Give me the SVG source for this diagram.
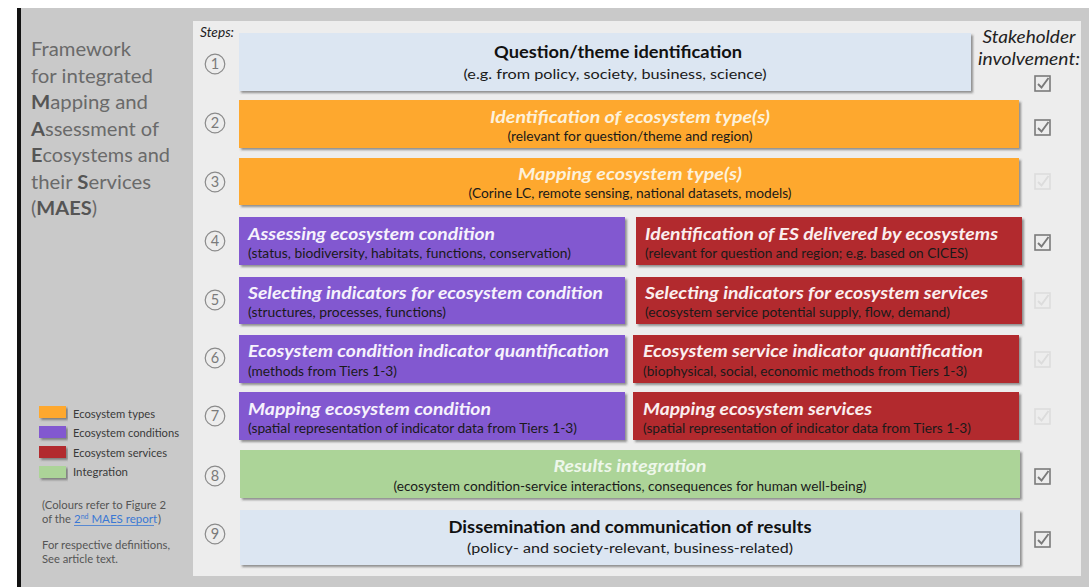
<svg xmlns="http://www.w3.org/2000/svg" xmlns:xlink="http://www.w3.org/1999/xlink" width="1089" height="587" viewBox="0 0 1089 587">
<defs>
<style>
.t{font-family:Lato,"Open Sans","Liberation Sans",sans-serif;}
.ttl{font-family:Lato,"Open Sans","Liberation Sans",sans-serif;font-size:17.5px;font-weight:bold;font-style:italic;}
.sub{font-family:Lato,"Open Sans","Liberation Sans",sans-serif;font-size:13.5px;fill:#1a1a1a;}
.num{font-family:Lato,"Open Sans","Liberation Sans",sans-serif;font-size:14.5px;fill:#7a7a7a;text-anchor:middle;}
.circ{fill:none;stroke:#8a8a8a;stroke-width:1.2;}
.left{font-family:Lato,"Open Sans","Liberation Sans",sans-serif;font-size:19.5px;fill:#6a6a6a;}
.left tspan.b{font-weight:bold;fill:#555;}
.leg{font-family:Lato,"Open Sans","Liberation Sans",sans-serif;font-size:11.5px;fill:#3a3a3a;}
.note{font-family:Lato,"Open Sans","Liberation Sans",sans-serif;font-size:11.5px;fill:#555;}
.on{stroke:#7a7a7a;}
.off{stroke:#dcdcdc;}
.box{filter:url(#sh);}
</style>
<filter id="sh" x="-5%" y="-20%" width="110%" height="150%">
<feDropShadow dx="2" dy="2" stdDeviation="1.2" flood-color="#444" flood-opacity="0.55"/>
</filter>
<g id="chk" fill="none" stroke-width="1.6">
<rect x="0" y="0" width="15" height="15" fill="none"/>
<path d="M3 8 L6.5 11.5 L13.5 2" stroke-width="1.9"/>
</g>
</defs>

<!-- background -->
<rect x="0" y="0" width="1089" height="587" fill="#ffffff"/>
<rect x="17" y="8" width="1072" height="579" fill="#c9c9c9"/>
<rect x="17" y="8" width="4" height="579" fill="#111"/>
<rect x="193" y="21" width="888" height="555" fill="#ededed"/>

<!-- left title -->
<g id="title-panel">
<text class="left" x="31" y="56" textLength="100" lengthAdjust="spacingAndGlyphs">Framework</text>
<text class="left" x="31" y="83" textLength="122" lengthAdjust="spacingAndGlyphs">for integrated</text>
<text class="left" x="31" y="109" textLength="117" lengthAdjust="spacingAndGlyphs"><tspan class="b">M</tspan>apping and</text>
<text class="left" x="31" y="136" textLength="128" lengthAdjust="spacingAndGlyphs"><tspan class="b">A</tspan>ssessment of</text>
<text class="left" x="31" y="162" textLength="139" lengthAdjust="spacingAndGlyphs"><tspan class="b">E</tspan>cosystems and</text>
<text class="left" x="31" y="189" textLength="120" lengthAdjust="spacingAndGlyphs">their <tspan class="b">S</tspan>ervices</text>
<text class="left" x="31" y="215" textLength="66" lengthAdjust="spacingAndGlyphs">(<tspan class="b">MAES</tspan>)</text>
</g>

<!-- legend -->
<g id="legend">
<rect class="box" x="39" y="406" width="27" height="12" fill="#fea82f"/>
<rect class="box" x="39" y="426" width="27" height="12" fill="#8258d0"/>
<rect class="box" x="39" y="446" width="27" height="12" fill="#b22a2e"/>
<rect class="box" x="39" y="466" width="27" height="12" fill="#acd498"/>
<text class="leg" x="73" y="418" textLength="82" lengthAdjust="spacingAndGlyphs">Ecosystem types</text>
<text class="leg" x="73" y="437" textLength="106" lengthAdjust="spacingAndGlyphs">Ecosystem conditions</text>
<text class="leg" x="73" y="457" textLength="94" lengthAdjust="spacingAndGlyphs">Ecosystem services</text>
<text class="leg" x="73" y="476" textLength="55" lengthAdjust="spacingAndGlyphs">Integration</text>
<text class="note" x="42" y="509" textLength="124" lengthAdjust="spacingAndGlyphs">(Colours refer to Figure 2</text>
<text class="note" x="42" y="523" textLength="29" lengthAdjust="spacingAndGlyphs">of the</text>
<text class="note" x="74" y="523" style="fill:#3a78d4">2<tspan font-size="7" dy="-4">nd</tspan><tspan dy="4"> MAES report</tspan></text>
<line x1="74" y1="525.5" x2="154" y2="525.5" stroke="#3a78d4" stroke-width="0.8"/>
<text class="note" x="158" y="523">)</text>
<text class="note" x="42" y="549" textLength="128" lengthAdjust="spacingAndGlyphs">For respective definitions,</text>
<text class="note" x="42" y="563" textLength="76" lengthAdjust="spacingAndGlyphs">See article text.</text>
</g>

<!-- headers -->
<text class="t" x="200" y="37" font-size="13" font-style="italic" fill="#222" textLength="34" lengthAdjust="spacingAndGlyphs">Steps:</text>
<text class="t" x="1029" y="43" font-size="17.5" font-style="italic" fill="#222" text-anchor="middle" textLength="93" lengthAdjust="spacingAndGlyphs">Stakeholder</text>
<text class="t" x="1029" y="65" font-size="17.5" font-style="italic" fill="#222" text-anchor="middle" textLength="102" lengthAdjust="spacingAndGlyphs">involvement:</text>

<!-- step numbers -->
<g id="step-numbers">
<circle class="circ" cx="215" cy="64" r="9.8"/><text class="num" x="215" y="69">1</text>
<circle class="circ" cx="215" cy="123" r="9.8"/><text class="num" x="215" y="128">2</text>
<circle class="circ" cx="215" cy="182" r="9.8"/><text class="num" x="215" y="187">3</text>
<circle class="circ" cx="215" cy="241" r="9.8"/><text class="num" x="215" y="246">4</text>
<circle class="circ" cx="215" cy="300" r="9.8"/><text class="num" x="215" y="305">5</text>
<circle class="circ" cx="215" cy="358" r="9.8"/><text class="num" x="215" y="363">6</text>
<circle class="circ" cx="215" cy="416" r="9.8"/><text class="num" x="215" y="421">7</text>
<circle class="circ" cx="215" cy="476" r="9.8"/><text class="num" x="215" y="481">8</text>
<circle class="circ" cx="215" cy="534" r="9.8"/><text class="num" x="215" y="539">9</text>
</g>

<!-- step 1 -->
<g id="step1">
<rect class="box" x="239" y="33" width="732" height="58" fill="#dce6f2"/>
<text class="t" x="618" y="58" font-size="17.5" font-weight="bold" fill="#111" text-anchor="middle" textLength="248" lengthAdjust="spacingAndGlyphs">Question/theme identification</text>
<text class="sub" x="615" y="79" font-size="14" text-anchor="middle" textLength="303" lengthAdjust="spacingAndGlyphs">(e.g. from policy, society, business, science)</text>
</g>

<!-- step 2 -->
<g id="step2">
<rect class="box" x="239" y="100" width="780" height="48" fill="#fea82f"/>
<text class="ttl" x="630" y="123" fill="#fdf1da" text-anchor="middle" textLength="280" lengthAdjust="spacingAndGlyphs">Identification of ecosystem type(s)</text>
<text class="sub" x="630" y="141" text-anchor="middle" textLength="245" lengthAdjust="spacingAndGlyphs">(relevant for question/theme and region)</text>
</g>

<!-- step 3 -->
<g id="step3">
<rect class="box" x="239" y="158" width="780" height="47" fill="#fea82f"/>
<text class="ttl" x="630" y="180" fill="#fdf1da" text-anchor="middle" textLength="224" lengthAdjust="spacingAndGlyphs">Mapping ecosystem type(s)</text>
<text class="sub" x="630" y="198" text-anchor="middle" textLength="323" lengthAdjust="spacingAndGlyphs">(Corine LC, remote sensing, national datasets, models)</text>
</g>

<!-- step 4 -->
<g id="step4-condition">
<rect class="box" x="239" y="217" width="386" height="48" fill="#8258d0"/>
<text class="ttl" x="248" y="240" fill="#f6f2fc" textLength="247" lengthAdjust="spacingAndGlyphs">Assessing ecosystem condition</text>
<text class="sub" x="248" y="258" textLength="323" lengthAdjust="spacingAndGlyphs">(status, biodiversity, habitats, functions, conservation)</text>
</g>
<g id="step4-services">
<rect class="box" x="636" y="217" width="386" height="48" fill="#b22a2e"/>
<text class="ttl" x="645" y="240" fill="#fbeeee" textLength="353" lengthAdjust="spacingAndGlyphs">Identification of ES delivered by ecosystems</text>
<text class="sub" x="645" y="258" textLength="323" lengthAdjust="spacingAndGlyphs">(relevant for question and region; e.g. based on CICES)</text>
</g>

<!-- step 5 -->
<g id="step5-condition">
<rect class="box" x="239" y="277" width="386" height="47" fill="#8258d0"/>
<text class="ttl" x="248" y="299" fill="#f6f2fc" textLength="355" lengthAdjust="spacingAndGlyphs">Selecting indicators for ecosystem condition</text>
<text class="sub" x="248" y="317" textLength="198" lengthAdjust="spacingAndGlyphs">(structures, processes, functions)</text>
</g>
<g id="step5-services">
<rect class="box" x="636" y="277" width="386" height="47" fill="#b22a2e"/>
<text class="ttl" x="645" y="299" fill="#fbeeee" textLength="343" lengthAdjust="spacingAndGlyphs">Selecting indicators for ecosystem services</text>
<text class="sub" x="645" y="317" textLength="305" lengthAdjust="spacingAndGlyphs">(ecosystem service potential supply, flow, demand)</text>
</g>

<!-- step 6 -->
<g id="step6-condition">
<rect class="box" x="239" y="335" width="386" height="48" fill="#8258d0"/>
<text class="ttl" x="248" y="357" fill="#f6f2fc" textLength="361" lengthAdjust="spacingAndGlyphs">Ecosystem condition indicator quantification</text>
<text class="sub" x="248" y="376" textLength="149" lengthAdjust="spacingAndGlyphs">(methods from Tiers 1-3)</text>
</g>
<g id="step6-services">
<rect class="box" x="633" y="335" width="386" height="48" fill="#b22a2e"/>
<text class="ttl" x="643" y="357" fill="#fbeeee" textLength="340" lengthAdjust="spacingAndGlyphs">Ecosystem service indicator quantification</text>
<text class="sub" x="643" y="376" textLength="324" lengthAdjust="spacingAndGlyphs">(biophysical, social, economic methods from Tiers 1-3)</text>
</g>

<!-- step 7 -->
<g id="step7-condition">
<rect class="box" x="239" y="392" width="386" height="48" fill="#8258d0"/>
<text class="ttl" x="248" y="415" fill="#f6f2fc" textLength="243" lengthAdjust="spacingAndGlyphs">Mapping ecosystem condition</text>
<text class="sub" x="248" y="433" textLength="329" lengthAdjust="spacingAndGlyphs">(spatial representation of indicator data from Tiers 1-3)</text>
</g>
<g id="step7-services">
<rect class="box" x="633" y="392" width="386" height="48" fill="#b22a2e"/>
<text class="ttl" x="643" y="415" fill="#fbeeee" textLength="229" lengthAdjust="spacingAndGlyphs">Mapping ecosystem services</text>
<text class="sub" x="643" y="433" textLength="328" lengthAdjust="spacingAndGlyphs">(spatial representation of indicator data from Tiers 1-3)</text>
</g>

<!-- step 8 -->
<g id="step8">
<rect class="box" x="240" y="450" width="780" height="48" fill="#acd498"/>
<text class="t" x="630" y="472" font-size="17" font-style="italic" font-weight="bold" fill="#eef7ea" text-anchor="middle" textLength="153" lengthAdjust="spacingAndGlyphs">Results integration</text>
<text class="sub" x="630" y="491" text-anchor="middle" textLength="473" lengthAdjust="spacingAndGlyphs">(ecosystem condition-service interactions, consequences for human well-being)</text>
</g>

<!-- step 9 -->
<g id="step9">
<rect class="box" x="240" y="510" width="780" height="55" fill="#dce6f2"/>
<text class="t" x="630" y="533" font-size="17.5" font-weight="bold" fill="#111" text-anchor="middle" textLength="363" lengthAdjust="spacingAndGlyphs">Dissemination and communication of results</text>
<text class="sub" x="630" y="553" font-size="14" text-anchor="middle" textLength="326" lengthAdjust="spacingAndGlyphs">(policy- and society-relevant, business-related)</text>
</g>

<!-- stakeholder checkboxes -->
<g id="stakeholder-checks">
<use xlink:href="#chk" class="on" x="1035" y="76"/>
<use xlink:href="#chk" class="on" x="1035" y="120"/>
<use xlink:href="#chk" class="off" x="1035" y="174"/>
<use xlink:href="#chk" class="on" x="1035" y="235"/>
<use xlink:href="#chk" class="off" x="1035" y="293"/>
<use xlink:href="#chk" class="off" x="1035" y="352"/>
<use xlink:href="#chk" class="off" x="1035" y="409"/>
<use xlink:href="#chk" class="on" x="1035" y="469"/>
<use xlink:href="#chk" class="on" x="1035" y="532"/>
</g>

<g id="connectors"/>
</svg>
